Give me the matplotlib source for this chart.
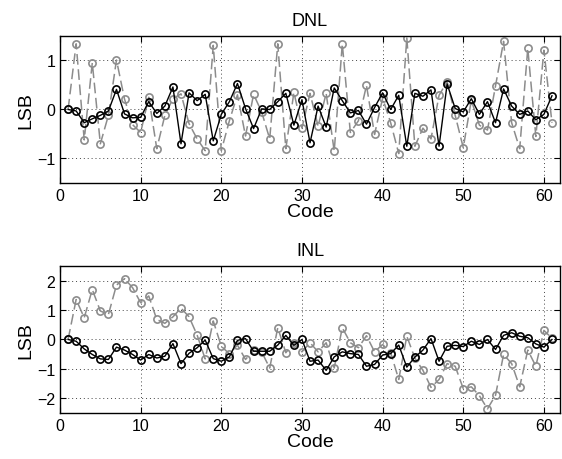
import matplotlib
matplotlib.use("Agg")
import matplotlib.pyplot as plt

codes = list(range(1, 62))

dnl_black = [
    0.00, -0.03, -0.27, -0.19, -0.12, -0.03, 0.41, -0.09, -0.17, -0.16,
    0.16, -0.08, 0.07, 0.46, -0.70, 0.34, 0.18, 0.31, -0.64, -0.10,
    0.16, 0.53, 0.02, -0.39, 0.01, 0.00, 0.16, 0.33, -0.32, 0.20,
    -0.68, 0.07, -0.36, 0.44, 0.18, -0.07, -0.02, -0.30, 0.04, 0.34,
    0.00, 0.29, -0.75, 0.33, 0.27, 0.40, -0.75, 0.52, 0.02, -0.05,
    0.22, -0.10, 0.16, -0.27, 0.42, 0.07, -0.10, -0.03, -0.21, -0.10,
    0.28,
]
dnl_gray = [
    0.00, 1.34, -0.62, 0.95, -0.70, -0.12, 1.01, 0.21, -0.31, -0.47,
    0.25, -0.80, -0.12, 0.22, 0.32, -0.29, -0.60, -0.84, 1.31, -0.84,
    -0.23, 0.30, -0.54, 0.31, -0.05, -0.60, 1.34, -0.80, 0.35, -0.38,
    0.33, -0.34, 0.33, -0.85, 1.34, -0.47, -0.23, 0.49, -0.51, 0.23,
    -0.27, -0.90, 1.46, -0.75, -0.38, -0.60, 0.29, 0.57, -0.12, -0.78,
    0.19, -0.32, -0.42, 0.48, 1.39, -0.27, -0.80, 1.25, -0.55, 1.21,
    -0.27,
]
inl_black = [
    0.00, -0.06, -0.32, -0.51, -0.66, -0.68, -0.26, -0.36, -0.51, -0.70,
    -0.51, -0.63, -0.57, -0.14, -0.82, -0.47, -0.28, -0.02, -0.65, -0.74,
    -0.59, -0.03, 0.03, -0.40, -0.40, -0.40, -0.19, 0.14, -0.20, 0.00,
    -0.74, -0.70, -1.05, -0.59, -0.42, -0.48, -0.51, -0.91, -0.85, -0.53,
    -0.48, -0.19, -0.94, -0.60, -0.36, 0.03, -0.74, -0.23, -0.20, -0.24,
    -0.06, -0.17, 0.00, -0.34, 0.14, 0.23, 0.11, 0.06, -0.15, -0.26,
    0.00,
]
inl_gray = [
    0.00, 1.36, 0.74, 1.70, 0.97, 0.85, 1.85, 2.07, 1.76, 1.25,
    1.48, 0.68, 0.55, 0.77, 1.07, 0.77, 0.15, -0.66, 0.63, -0.23,
    -0.49, -0.19, -0.68, -0.37, -0.42, -0.97, 0.40, -0.45, -0.11, -0.42,
    -0.11, -0.42, -0.11, -0.97, 0.40, -0.11, -0.28, 0.13, -0.42, -0.17,
    -0.45, -1.36, 0.11, -0.63, -1.05, -1.63, -1.36, -0.82, -0.91, -1.67,
    -1.61, -1.91, -2.36, -1.90, -0.51, -0.82, -1.61, -0.36, -0.91, 0.31,
    0.04,
]

plt.rcParams["font.family"] = ["Liberation Sans", "DejaVu Sans"]

fig = plt.figure(figsize=(5.62, 4.60), dpi=100)
ax1 = fig.add_axes([0.1068, 0.600, 0.8897, 0.3196])
ax2 = fig.add_axes([0.1068, 0.100, 0.8897, 0.3196])

gray = "#8c8c8c"
panels = [
    (ax1, dnl_black, dnl_gray, "DNL", (-1.5, 1.5), [-1, 0, 1]),
    (ax2, inl_black, inl_gray, "INL", (-2.5, 2.5), [-2, -1, 0, 1, 2]),
]
for ax, black, grey, title, ylim, yticks in panels:
    ax.plot(codes, grey, color=gray, linestyle=(0, (7, 3)), linewidth=1.1,
            marker="o", markersize=5.2, markerfacecolor="none",
            markeredgecolor=gray, markeredgewidth=1.2)
    ax.plot(codes, black, color="black", linewidth=1.0,
            marker="o", markersize=5.2, markerfacecolor="none",
            markeredgecolor="black", markeredgewidth=1.2)
    ax.set_xlim(0, 62)
    ax.set_ylim(*ylim)
    ax.set_xticks(range(0, 61, 10))
    ax.set_yticks(yticks)
    ax.grid(True, color="#444444", linestyle=(0, (1, 3)), linewidth=0.7)
    ax.tick_params(direction="in", top=True, right=True, labelsize=11.5, length=4)
    ax.set_title(title, fontsize=13, pad=8)
    ax.set_xlabel("Code", fontsize=14, labelpad=0)
    ax.set_ylabel("LSB", fontsize=14, labelpad=2)
    for s in ax.spines.values():
        s.set_linewidth(1.0)

fig.savefig("out.png", dpi=100)
